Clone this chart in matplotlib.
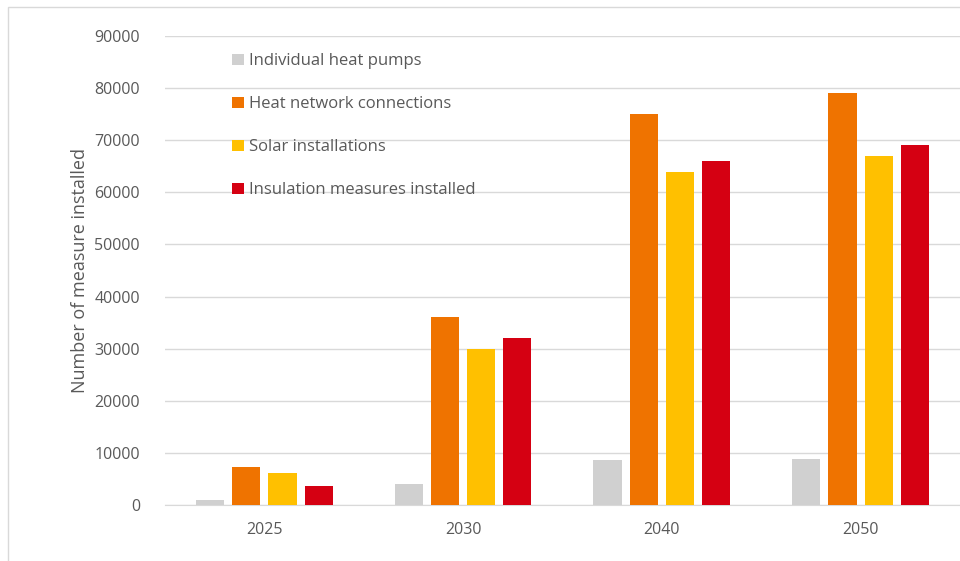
import matplotlib
matplotlib.use("Agg")
import matplotlib.pyplot as plt
import numpy as np
from matplotlib.patches import Rectangle

years = ["2025", "2030", "2040", "2050"]
series_names = ["Individual heat pumps", "Heat network connections",
                "Solar installations", "Insulation measures installed"]
heat_pumps = [1000, 4100, 8600, 8800]
heat_network = [7300, 36000, 75000, 79000]
solar = [6200, 30000, 64000, 67000]
insulation = [3700, 32000, 66000, 69000]
colors = ["#d0d0d0", "#ef7300", "#ffc000", "#d50012"]

plt.rcParams['font.family'] = ['Open Sans', 'DejaVu Sans']
txt = "#595959"

fig = plt.figure(figsize=(9.6, 5.61), dpi=100)
ax = fig.add_axes([0.1719, 0.0998, 0.828, 0.836])

x = np.arange(len(years))
step = 0.182
width = 0.142
all_series = [heat_pumps, heat_network, solar, insulation]
for i, (vals, name, c) in enumerate(zip(all_series, series_names, colors)):
    ax.bar(x + (i - 1.5) * step, vals, width, color=c, label=name, zorder=3)

ax.set_xlim(-0.5, 3.5)
ax.set_ylim(0, 90000)
ax.set_yticks(np.arange(0, 90001, 10000))
ax.set_xticks(x)
ax.set_xticklabels(years)
ax.yaxis.grid(True, color="#d9d9d9", linewidth=1.0, zorder=0)
for s in ax.spines.values():
    s.set_visible(False)
ax.spines['bottom'].set_visible(True)
ax.spines['bottom'].set_color("#d9d9d9")
ax.tick_params(axis='both', length=0, colors=txt, labelsize=11.5)
ax.tick_params(axis='y', pad=18)
ax.tick_params(axis='x', pad=12)
ax.set_ylabel("Number of measure installed", color=txt, fontsize=13, labelpad=4)

leg = ax.legend(loc="upper left", bbox_to_anchor=(0.066, 0.995), frameon=False,
                fontsize=12, labelcolor=txt, handlelength=0.72, handleheight=0.72,
                handletextpad=0.3, labelspacing=1.62)

# screenshot frame
fig.patches.append(Rectangle((0.008, -0.01), 1.1, 0.998, transform=fig.transFigure,
                             fill=False, edgecolor="#d9d9d9", linewidth=1.0))

fig.savefig("out.png", dpi=100, facecolor="white")
